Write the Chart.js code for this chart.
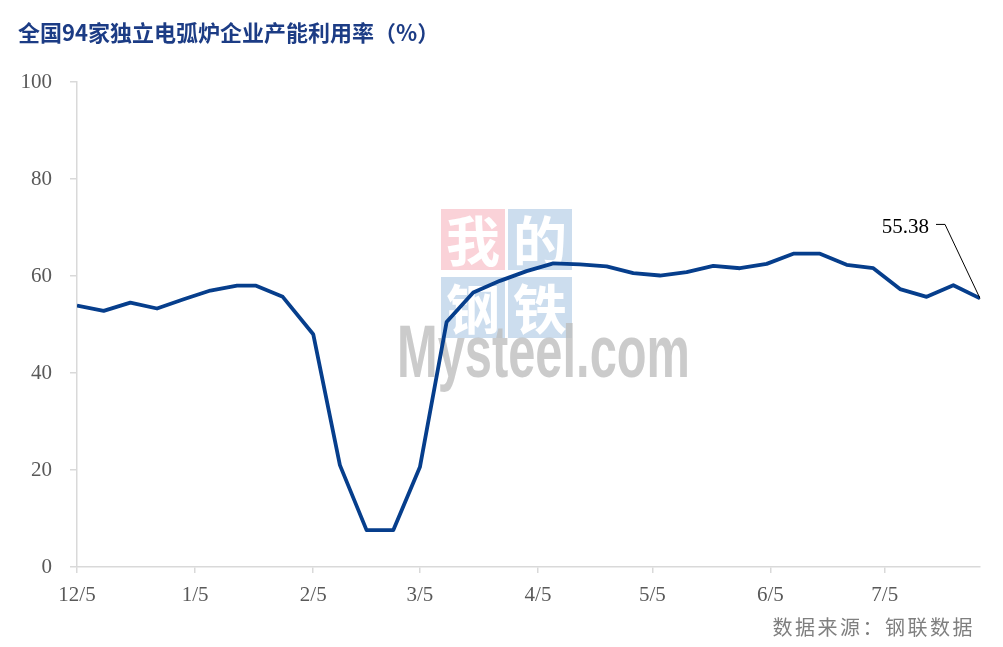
<!DOCTYPE html>
<html>
<head>
<meta charset="utf-8">
<script src="https://cdn.jsdelivr.net/npm/chart.js@4.4.1/dist/chart.umd.min.js"></script>
<style>
  html, body { margin: 0; padding: 0; background: #fff; }
</style>
</head>
<body>
<canvas id="myChart" width="1003" height="647"></canvas>
<script>
var titleText = "全国94家独立电弧炉企业产能利用率（%）";
var sourceText = "数据来源：钢联数据";

// days since 12/5 for each weekly reading
var dayValues = [0, 7, 14, 21, 28, 35, 42, 47, 54, 62, 69, 76, 83, 90, 97, 104, 111, 118, 125, 132,
  139, 146, 153, 160, 167, 174, 181, 188, 195, 202, 209, 216, 223, 230, 237];
var rateValues = [53.9, 52.8, 54.5, 53.3, 55.2, 57.0, 58.0, 58.0, 55.7, 48.0, 21.0, 7.6, 7.6, 20.6, 50.5, 56.6, 59.0, 61.0, 62.6, 62.4,
  62.0, 60.6, 60.1, 60.8, 62.1, 61.6, 62.5, 64.6, 64.6, 62.3, 61.6, 57.3, 55.7, 58.1, 55.38];

var tickDays = [0, 31, 62, 90, 121, 151, 182, 212];
var tickLabels = ["12/5", "1/5", "2/5", "3/5", "4/5", "5/5", "6/5", "7/5"];
var lastLabel = "55.38";

var points = dayValues.map(function (d, i) { return { x: d, y: rateValues[i] }; });

var extras = {
  id: "extras",
  beforeDatasetsDraw: function (chart) {
    var ctx = chart.ctx;
    ctx.save();
    // watermark boxes
    var boxes = [
      { x: 441, y: 209, c: "rgba(246,180,190,0.6)", t: "我" },
      { x: 508, y: 209, c: "rgba(170,198,226,0.6)", t: "的" },
      { x: 441, y: 277, c: "rgba(170,198,226,0.6)", t: "钢" },
      { x: 508, y: 277, c: "rgba(170,198,226,0.6)", t: "铁" }
    ];
    boxes.forEach(function (b) {
      ctx.fillStyle = b.c;
      ctx.fillRect(b.x, b.y, 64, 61);
      ctx.fillStyle = "#ffffff";
      ctx.font = "bold 54px 'Noto Sans CJK SC'";
      ctx.textAlign = "center";
      ctx.textBaseline = "middle";
      ctx.fillText(b.t, b.x + 32, b.y + 32);
    });
    ctx.font = "bold 74px 'Liberation Sans'";
    var w = ctx.measureText("Mysteel.com").width;
    ctx.translate(397, 377);
    ctx.scale(293 / w, 1);
    ctx.fillStyle = "rgba(190,190,190,0.8)";
    ctx.textAlign = "left";
    ctx.textBaseline = "alphabetic";
    ctx.fillText("Mysteel.com", 0, 0);
    ctx.restore();
  },
  afterDatasetsDraw: function (chart) {
    var ctx = chart.ctx;
    var meta = chart.getDatasetMeta(0);
    var p = meta.data[meta.data.length - 1];
    ctx.save();
    ctx.strokeStyle = "#000";
    ctx.lineWidth = 1;
    ctx.beginPath();
    ctx.moveTo(p.x - 44, p.y - 74);
    ctx.lineTo(p.x - 35, p.y - 74);
    ctx.lineTo(p.x, p.y);
    ctx.stroke();
    ctx.fillStyle = "#000";
    ctx.font = "21px 'Liberation Serif'";
    ctx.textAlign = "right";
    ctx.textBaseline = "middle";
    ctx.fillText(lastLabel, p.x - 51, p.y - 71);
    ctx.restore();
  },
  afterDraw: function (chart) {
    var ctx = chart.ctx;
    ctx.save();
    ctx.fillStyle = "#1c3c85";
    ctx.font = "bold 22px 'Noto Sans CJK SC'";
    ctx.textAlign = "left";
    ctx.textBaseline = "middle";
    ctx.fillText(titleText, 18, 33);
    ctx.fillStyle = "#7f7f7f";
    ctx.font = "20px 'Noto Sans CJK SC'";
    ctx.letterSpacing = "2.5px";
    ctx.textAlign = "right";
    ctx.fillText(sourceText, 975, 627);
    ctx.restore();
  }
};

new Chart("myChart", {
  type: "line",
  data: {
    datasets: [{
      data: points,
      borderColor: "#063e8c",
      borderWidth: 3.8,
      borderJoinStyle: "round",
      pointRadius: 0,
      tension: 0,
      fill: false
    }]
  },
  options: {
    responsive: false,
    animation: false,
    layout: { padding: { top: 82, right: 23, bottom: 0, left: 0 } },
    plugins: {
      legend: { display: false },
      tooltip: { enabled: false }
    },
    scales: {
      x: {
        type: "linear",
        min: 0,
        max: 237,
        afterBuildTicks: function (scale) {
          scale.ticks = tickDays.map(function (v) { return { value: v }; });
        },
        afterFit: function (scale) { scale.height = 80; },
        ticks: {
          padding: 10,
          color: "#595959",
          font: { family: "'Liberation Serif'", size: 21 },
          maxRotation: 0,
          callback: function (value) { return tickLabels[tickDays.indexOf(value)]; }
        },
        grid: { drawOnChartArea: false, tickLength: 6, color: "#d9d9d9", lineWidth: 1.5 },
        border: { color: "#d9d9d9", width: 1.5 }
      },
      y: {
        min: 0,
        max: 100,
        afterFit: function (scale) { scale.width = 77; },
        ticks: {
          stepSize: 20,
          padding: 18,
          color: "#595959",
          font: { family: "'Liberation Serif'", size: 21 }
        },
        grid: { drawOnChartArea: false, tickLength: 7, color: "#d9d9d9", lineWidth: 1.5 },
        border: { color: "#d9d9d9", width: 1.5 }
      }
    }
  },
  plugins: [extras]
});
</script>
</body>
</html>
